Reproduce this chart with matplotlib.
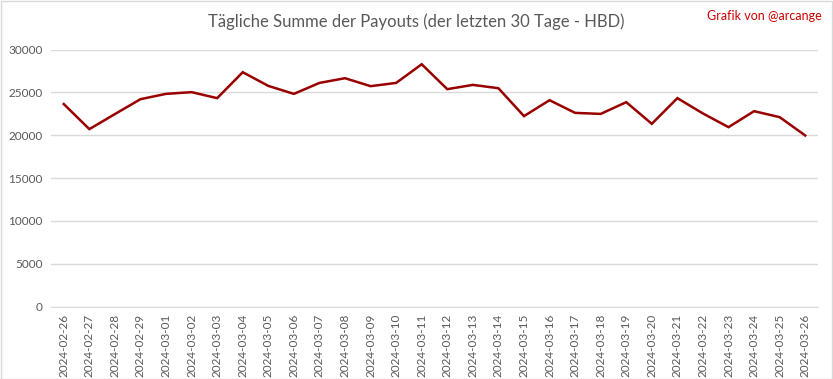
import matplotlib.pyplot as plt
from matplotlib.patches import Rectangle

plt.rcParams['font.family'] = ['Lato', 'DejaVu Sans']

dates = ['2024-02-26', '2024-02-27', '2024-02-28', '2024-02-29', '2024-03-01',
         '2024-03-02', '2024-03-03', '2024-03-04', '2024-03-05', '2024-03-06',
         '2024-03-07', '2024-03-08', '2024-03-09', '2024-03-10', '2024-03-11',
         '2024-03-12', '2024-03-13', '2024-03-14', '2024-03-15', '2024-03-16',
         '2024-03-17', '2024-03-18', '2024-03-19', '2024-03-20', '2024-03-21',
         '2024-03-22', '2024-03-23', '2024-03-24', '2024-03-25', '2024-03-26']
payouts = [23650, 20720, 22480, 24220, 24840, 25040, 24340, 27370, 25770, 24840,
           26120, 26670, 25740, 26120, 28300, 25390, 25890, 25500, 22240, 24100,
           22620, 22500, 23870, 21340, 24340, 22550, 20950, 22820, 22120, 19980]
yticks = [0, 5000, 10000, 15000, 20000, 25000, 30000]

fig = plt.figure(figsize=(8.33, 3.79), dpi=100)
ax = fig.add_axes([51/833, 1 - 306.5/379, (818-51)/833, (306.5-49.7)/379])

x = list(range(len(dates)))
ax.plot(x, payouts, color='#990000', linewidth=1.8, solid_joinstyle='miter')

ax.set_xlim(-0.5, len(dates) - 0.5)
ax.set_ylim(0, 30000)
ax.set_yticks(yticks)
ax.set_yticklabels([str(v) for v in yticks], fontsize=8.5, color='#595959')
ax.set_xticks(x)
ax.set_xticklabels(dates, rotation=90, fontsize=8.5, color='#595959')
ax.tick_params(axis='both', length=0, pad=6)
ax.tick_params(axis='x', pad=5)

ax.grid(axis='y', color='#d9d9d9', linewidth=1)
ax.set_axisbelow(True)
for s in ['top', 'right', 'left']:
    ax.spines[s].set_visible(False)
ax.spines['bottom'].set_color('#d9d9d9')

fig.text(416/833, 1 - 22/379, 'Tägliche Summe der Payouts (der letzten 30 Tage - HBD)',
         ha='center', va='center', fontsize=12, color='#595959')
fig.text(822/833, 1 - 16/379, 'Grafik von @arcange', ha='right', va='center',
         fontsize=9, color='#cc0000')

fig.patches.append(Rectangle((0.5/833, 0.5/379), 1 - 1.5/833, 1 - 1.5/379,
                             transform=fig.transFigure, fill=False,
                             edgecolor='#d9d9d9', linewidth=1))

fig.savefig('out.png', dpi=100)
